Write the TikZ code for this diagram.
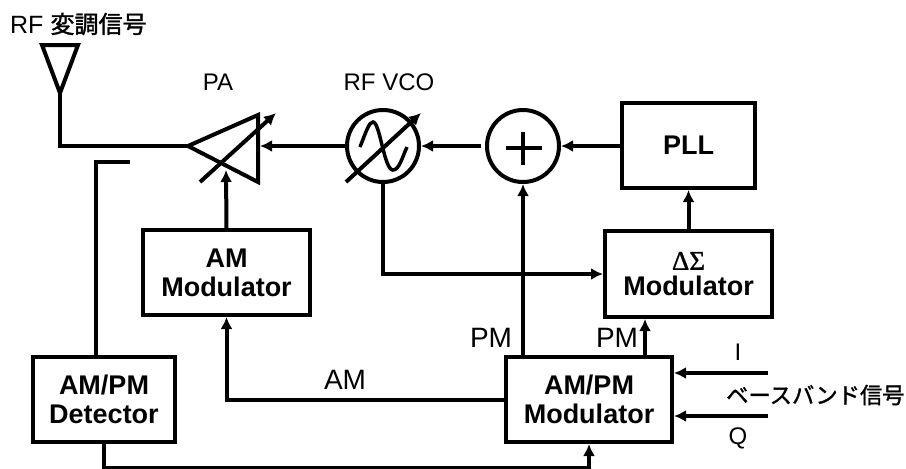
\documentclass[tikz,border=0pt]{standalone}
\usepackage{fontspec}
\setmainfont{Liberation Sans}
\newfontfamily\cjk[FakeBold=1.5]{Noto Sans CJK JP}
\newfontfamily\grk[FakeBold=1]{Liberation Serif}
\usetikzlibrary{calc,arrows.meta}
\tikzset{
  wire/.style={line width=4pt},
  flow/.style={wire,-{Latex[length=12pt,width=12pt]}},
  block/.style={draw,line width=4pt,align=center,inner sep=0pt,
    font=\fontsize{27}{29}\selectfont\bfseries},
  ring/.style={draw,circle,line width=4pt,minimum size=72pt,inner sep=0pt},
  lab/.style={inner sep=0pt,font=\fontsize{24}{26}\selectfont},
  sig/.style={inner sep=0pt,font=\fontsize{28}{30}\selectfont},
}
\begin{document}
\begin{tikzpicture}[x=1pt,y=-1pt]
      \useasboundingbox(0,0)rectangle(906,469);
      \coordinate(AT1) at (42,45);
      \coordinate(AT2) at (78,45);
      \coordinate(AT3) at (60,93);
      \coordinate(PA1) at (188,146);
      \coordinate(PA2) at (258,115);
      \coordinate(PA3) at (258,182);
      \coordinate(PAR) at (260,146);
      \coordinate(PAB) at (226,170);
      \coordinate(COR) at (60,146);
      \coordinate(FB1) at (130,162);
      \coordinate(PMR) at (645,357);
      
      \node[block,minimum width=133pt,minimum height=85pt](pll) at (688.5,145.5){PLL};
      \node[block,minimum width=167pt,minimum height=86pt](ds) at (688.5,274){{\grk\mdseries\fontsize{27}{27}\selectfont ΔΣ}\\[-3pt]Modulator};
      \node[block,minimum width=167pt,minimum height=85pt](am) at (226.5,272.5){AM\\Modulator};
      \node[block,minimum width=142pt,minimum height=85pt](det) at (104,399.5){AM/PM\\Detector};
      \node[block,minimum width=166pt,minimum height=85pt](mod) at (589,399.5){AM/PM\\Modulator};
      \node[ring](vco) at (383,146){};
      \node[ring](sum) at (523,146){};
      
      \draw[line width=4pt,line join=miter](AT1)--(AT2)--(AT3)--cycle;
      \draw[wire](AT3)--(COR)--(PA1);
      \draw[line width=4pt,line join=miter](PA1)--(PA2)--(PA3)--cycle;
      \draw[flow](200,182)--(276,113);
      \draw[flow](346,182)--(421,113);
      \draw[line width=3.5pt](360,147)..controls(366,132)and(369,122)..(373,122)
        ..controls(380,122)and(384,170)..(393,170)
        ..controls(399,170)and(402,158)..(407,147);
      \draw[line width=3.5pt](506,148)--(542,148);
      \draw[line width=3.5pt](523,132)--(523,165);
      
      \draw[flow](vco.west)--(PAR);
      \draw[flow]($(sum.west)+(-4,0)$)--(vco.east);
      \draw[flow](pll.west|-sum.east)--(sum.east);
      \draw[flow](ds.north)--(pll.south);
      \draw[flow](am.north)--(PAB);
      \draw[flow](vco.south)|-(ds.west);
      \draw[flow](sum.south|-mod.north)--(sum.south);
      \draw[flow](PMR)--(PMR|-ds.south);
      \draw[flow](mod.west)-|(am.south);
      \draw[wire](det.north-|96,0)|-(FB1);
      \draw[flow](det.south)--++(0,24)-|(mod.south);
      \draw[flow](768,373)coordinate(II)--(II-|mod.east);
      \draw[flow](768,416)coordinate(QQ)--(QQ-|mod.east);
      
      \node[anchor=west,inner sep=0pt,font=\fontsize{25}{26}\selectfont](rf) at (10,24){RF\hspace{7pt}{\cjk\fontsize{24}{26}\selectfont 変調信号}};
      \node[lab](pa) at (218,82){PA};
      \node[lab](vl) at (389,82){RF VCO};
      \node[sig](aml) at (345,380){AM};
      \node[sig](pml) at (491,338){PM};
      \node[sig](pmm) at (617,338){PM};
      \node[lab](il) at (738,352){I};
      \node[lab](ql) at (738,438){Q};
      \node[anchor=west,inner sep=0pt,font=\cjk\fontsize{22.3}{24}\selectfont](bb) at (726,395){ベースバンド信号};
    \end{tikzpicture}
\end{document}
